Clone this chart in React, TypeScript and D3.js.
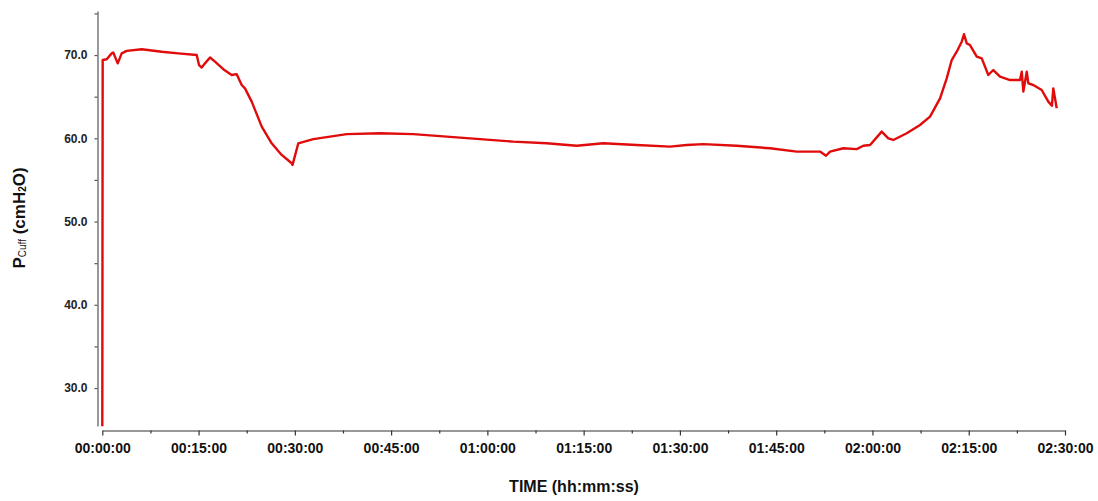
import React, { useEffect, useRef } from 'react';
import * as d3 from 'd3';

// cuff pressure readings: [minutes since start, cmH2O]
const cuffTrace: [number, number][] = [
  [0, 25.4], [0.06, 69.4], [0.69, 69.5], [1.46, 70.2], [1.71, 70.3], [2.4, 69.0],
  [3.02, 70.2], [3.8, 70.5], [6.14, 70.7], [9.26, 70.4], [11.84, 70.2], [14.71, 70.0],
  [15.07, 68.8], [15.49, 68.5], [16.0, 69.0], [16.78, 69.7], [17.56, 69.2], [18.85, 68.3],
  [20.16, 67.6], [20.94, 67.7], [21.72, 66.4], [22.23, 66.0], [23.28, 64.4], [24.84, 61.4],
  [26.39, 59.4], [27.95, 58.0], [29.51, 57.0], [29.64, 56.8], [30.54, 59.4], [32.88, 59.9],
  [38.08, 60.5], [43.27, 60.6], [48.46, 60.5], [53.66, 60.2], [58.85, 59.9], [64.04, 59.6],
  [69.24, 59.4], [73.92, 59.1], [78.06, 59.4], [83.27, 59.2], [88.46, 59.0], [91.06, 59.2],
  [93.64, 59.3], [98.85, 59.1], [104.04, 58.8], [108.2, 58.4], [111.83, 58.4], [112.76, 57.9],
  [113.39, 58.4], [115.46, 58.8], [117.55, 58.7], [118.58, 59.1], [119.63, 59.2], [121.44, 60.8],
  [122.47, 60.0], [123.25, 59.8], [125.34, 60.6], [127.41, 61.6], [128.97, 62.6], [130.53, 64.8],
  [131.57, 67.2], [132.35, 69.4], [133.13, 70.4], [133.91, 71.6], [134.27, 72.5], [134.69, 71.4],
  [135.2, 71.2], [136.25, 69.8], [137.03, 69.6], [138.05, 67.6], [138.83, 68.2], [139.88, 67.4],
  [141.44, 67.0], [142.99, 67.0], [143.26, 68.0], [143.51, 65.6], [144.04, 68.0], [144.29, 66.6],
  [145.06, 66.4], [146.37, 65.8], [147.4, 64.4], [147.96, 63.9], [148.18, 66.0], [148.71, 63.6],
];

const xMajorTicks = [0, 15, 30, 45, 60, 75, 90, 105, 120, 135, 150];
const xMinorTicks = [7.5, 22.5, 37.5, 52.5, 67.5, 82.5, 97.5, 112.5, 127.5, 142.5];
const yMajorTicks = [30, 40, 50, 60, 70];
const yMinorTicks = [35, 45, 55, 65, 75];

const W = 1098;
const H = 501;
const FONT = '"Liberation Sans", Arial, sans-serif';

const fmtTime = (m: number) => {
  const h = Math.floor(m / 60);
  const mm = Math.floor(m % 60);
  const ss = Math.round((m * 60) % 60);
  const p = (n: number) => String(n).padStart(2, '0');
  return `${p(h)}:${p(mm)}:${p(ss)}`;
};

const App = () => {
  const gx = useRef<SVGGElement>(null);
  const gxm = useRef<SVGGElement>(null);
  const gy = useRef<SVGGElement>(null);
  const gym = useRef<SVGGElement>(null);

  const x = d3.scaleLinear().domain([0, 150]).range([102.3, 1065]);
  const y = d3.scaleLinear().domain([25.44, 75.29]).range([426, 11]);
  const xAxisY = 430.5;
  const yAxisX = 97.5;

  const line = d3
    .line<[number, number]>()
    .x((d) => x(d[0]))
    .y((d) => y(d[1]));

  useEffect(() => {
    const xa = d3.select(gx.current!);
    xa.call(
      d3.axisBottom(x).tickValues(xMajorTicks).tickSize(5).tickSizeOuter(0).tickPadding(8).tickFormat((d) => fmtTime(+d))
    );
    xa.select('.domain').attr('stroke', '#333').attr('stroke-width', 1.2);
    xa.selectAll('.tick line').attr('stroke', '#333').attr('stroke-width', 1.2);
    xa.selectAll('.tick text')
      .attr('fill', '#111')
      .style('font-family', FONT)
      .style('font-size', '14px')
      .style('font-weight', 'bold');

    const xm = d3.select(gxm.current!);
    xm.call(d3.axisBottom(x).tickValues(xMinorTicks).tickSize(3).tickFormat(() => ''));
    xm.select('.domain').remove();
    xm.selectAll('.tick line').attr('stroke', '#333').attr('stroke-width', 1.2);

    const ya = d3.select(gy.current!);
    ya.call(
      d3.axisLeft(y).tickValues(yMajorTicks).tickSize(3).tickSizeOuter(0).tickPadding(7).tickFormat(d3.format('.1f'))
    );
    ya.select('.domain').attr('stroke', '#777').attr('stroke-width', 1.5);
    ya.selectAll('.tick line').attr('stroke', '#555').attr('stroke-width', 1.2);
    ya.selectAll('.tick text')
      .attr('fill', '#222')
      .style('font-family', FONT)
      .style('font-size', '12px')
      .style('font-weight', 'bold');

    const ym = d3.select(gym.current!);
    ym.call(d3.axisLeft(y).tickValues(yMinorTicks).tickSize(3).tickFormat(() => ''));
    ym.select('.domain').remove();
    ym.selectAll('.tick line').attr('stroke', '#555').attr('stroke-width', 1.2);
  }, []);

  return (
    <div style={{ position: 'absolute', left: 0, top: 0 }}>
      <svg width={W} height={H} style={{ display: 'block', background: '#fff' }}>
        <g ref={gy} transform={`translate(${yAxisX},0)`} />
        <g ref={gym} transform={`translate(${yAxisX},0)`} />
        <g ref={gx} transform={`translate(0,${xAxisY})`} />
        <g ref={gxm} transform={`translate(0,${xAxisY})`} />
        <path
          d={line(cuffTrace) || ''}
          fill="none"
          stroke="#e00b0b"
          strokeWidth={2.4}
          strokeLinejoin="round"
        />
        <text
          x={574}
          y={492}
          textAnchor="middle"
          fontFamily={FONT}
          fontWeight="bold"
          fontSize={16}
          fill="#111"
        >
          TIME (hh:mm:ss)
        </text>
        <text
          transform="translate(25,218) rotate(-90)"
          textAnchor="middle"
          fontFamily={FONT}
          fontWeight="bold"
          fontSize={17}
          fill="#111"
        >
          P<tspan fontSize={10} fontWeight="normal" dy={1}>Cuff</tspan>
          <tspan dy={-1}> (cmH</tspan>
          <tspan fontSize={10} dy={1}>2</tspan>
          <tspan dy={-1}>O)</tspan>
        </text>
      </svg>
    </div>
  );
};

export default App;
